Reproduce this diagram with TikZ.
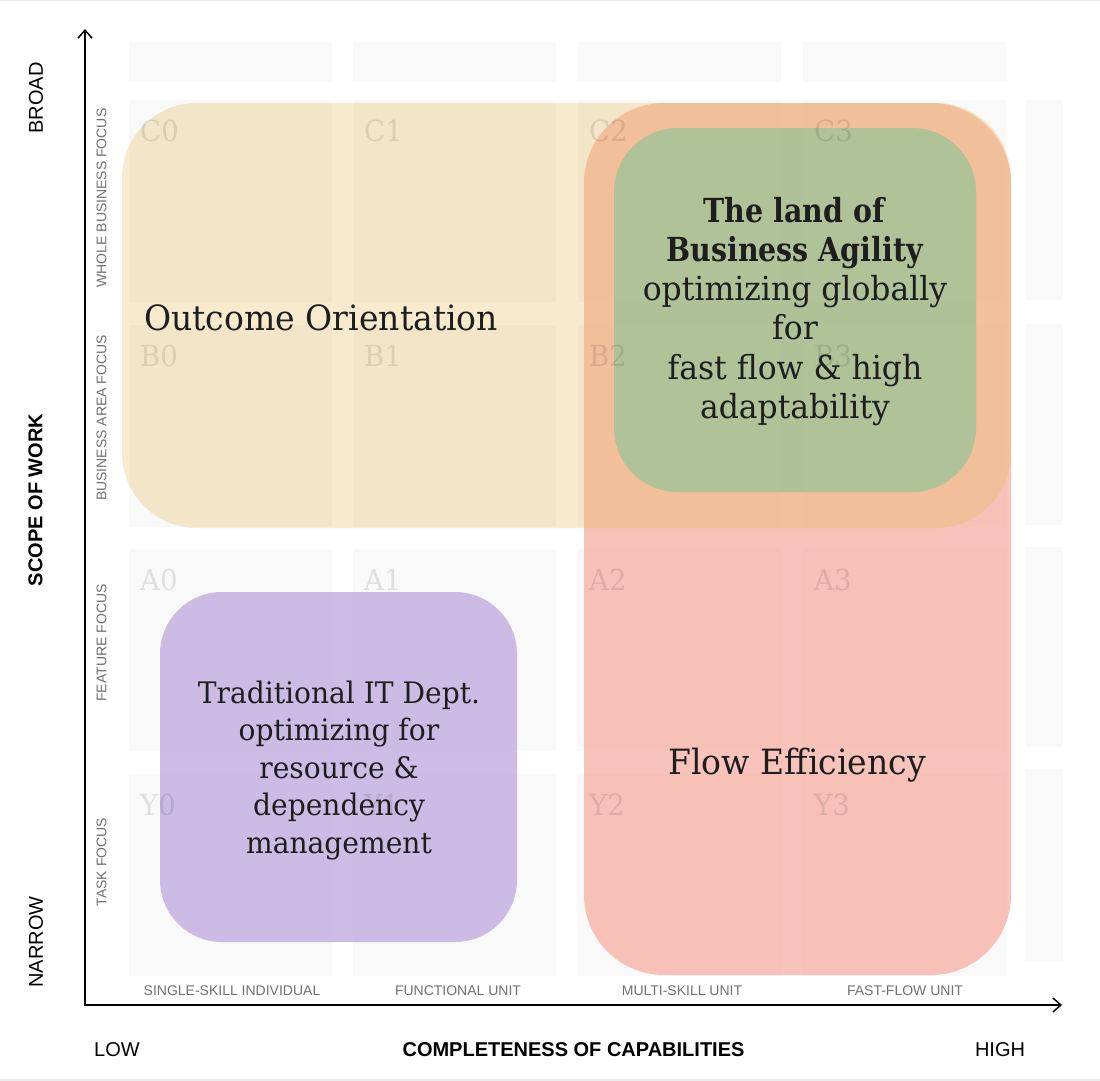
\documentclass[tikz,border=0pt]{standalone}
\usepackage{fontspec}
\setmainfont{DejaVu Serif}
\newfontfamily\slabfont[FakeStretch=0.95, BoldFeatures={FakeStretch=0.86}]{DejaVu Serif}
\newfontfamily\arialfont{Liberation Sans}
\usetikzlibrary{arrows.meta}
\definecolor{cellbg}{RGB}{249,249,249}
\definecolor{pinkc}{RGB}{247,188,178}
\definecolor{yellowc}{RGB}{232,188,90}
\definecolor{greenc}{RGB}{170,195,152}
\definecolor{purplec}{RGB}{200,182,227}
\definecolor{darktext}{RGB}{30,30,30}
\definecolor{graylab}{RGB}{112,112,112}
\definecolor{rulegray}{RGB}{236,236,236}
\tikzset{
  cellbox/.style={fill=cellbg, draw=none, inner sep=0pt, outer sep=0pt, anchor=north west, minimum width=203pt, minimum height=202pt},
  celllabel/.style={text=black, text opacity=0.1, anchor=base west, inner sep=0pt, font=\slabfont\fontsize{29}{29}\selectfont},
  region/.style={draw=none, inner sep=0pt, outer sep=0pt, rectangle},
  maintext/.style={text=darktext, inner sep=0pt, font=\slabfont\fontsize{34.8}{40}\selectfont},
  blocktext/.style={text=darktext, inner sep=0pt, align=center, anchor=north},
  axislabel/.style={text=black, inner sep=0pt, font=\arialfont\fontsize{20}{20}\selectfont},
  axistitle/.style={text=black, inner sep=0pt, font=\arialfont\bfseries\fontsize{20}{20}\selectfont},
  ticklabel/.style={text=graylab, inner sep=0pt, font=\arialfont\fontsize{14}{14}\selectfont},
  axisline/.style={line width=1.5pt, black, {Straight Barb[length=8pt,width=14pt,line width=1.5pt]}-{Straight Barb[length=8pt,width=14pt,line width=1.5pt]}}
}
\begin{document}
\begin{tikzpicture}[x=1pt,y=-1pt]
\useasboundingbox (0,0) rectangle (1100,1081);
% faint frame rules
\fill[rulegray] (0,0) rectangle (1100,1.5);
\fill[rulegray] (0,1078.5) rectangle (1100,1081);
% top row cells
\foreach \c/\cx in {0/129,1/353,2/578,3/803}{
  \node[cellbox, minimum height=39pt] (top\c) at (\cx,42) {};
}
% grid cells
\foreach \r/\ty in {C/100,B/325,A/549,Y/774}{
  \foreach \c/\cx in {0/129,1/353,2/578,3/803}{
    \node[cellbox] (cell\r\c) at (\cx,\ty) {};
  }
}
% right extra column
\node[cellbox, minimum width=37pt, minimum height=200pt] (rcC) at (1026,100) {};
\node[cellbox, minimum width=37pt, minimum height=201pt] (rcB) at (1026,324) {};
\node[cellbox, minimum width=37pt, minimum height=200pt] (rcA) at (1026,547) {};
\node[cellbox, minimum width=37pt, minimum height=192pt] (rcY) at (1026,769) {};
% regions
\node[region, fill=pinkc, fill opacity=0.9, minimum width=427pt, minimum height=872pt, rounded corners=80pt] (flow) at (797.5,539) {};
\node[region, fill=yellowc, fill opacity=0.3, minimum width=889pt, minimum height=425pt, rounded corners=75pt] (outcome) at (566.5,315.5) {};
\node[region, fill=greenc, fill opacity=0.92, minimum width=362pt, minimum height=364pt, rounded corners=64pt] (agility) at (795,310) {};
\node[region, fill=purplec, fill opacity=0.9, minimum width=357pt, minimum height=350pt, rounded corners=62pt] (itdept) at (338.5,767) {};
% cell labels (faint, over the regions)
\foreach \r/\ty in {C/100,B/325,A/549,Y/774}{
  \foreach \c/\cx in {0/129,1/353,2/578,3/803}{
    \node[celllabel] (lab\r\c) at (\cx+11,\ty+41) {\r\c};
  }
}
% region texts
\node[maintext, anchor=base west] (ootext) at (144,330) {Outcome Orientation};
\node[maintext, anchor=base] (fetext) at (797,774) {Flow Efficiency};
\node[blocktext, font=\slabfont\fontsize{33.1}{39.2}\selectfont] (batext) at (795,197) {\textbf{The land of}\\\textbf{Business Agility}\\optimizing globally\\for\\fast flow \& high\\adaptability};
\node[blocktext, font=\slabfont\fontsize{29.6}{37.5}\selectfont] (ittext) at (339,680.5) {Traditional IT Dept.\\optimizing for\\resource \&\\dependency\\management};
% axes
\coordinate (ytip) at (85,29);
\coordinate (origin) at (85,1005);
\coordinate (xtip) at (1062,1005);
\draw[axisline] (ytip) -- (origin) -- (xtip);
% axis labels
\node[axislabel, rotate=90] (broad) at (36,98) {BROAD};
\node[axislabel, rotate=90] (narrow) at (36,942) {NARROW};
\node[axistitle, rotate=90] (scope) at (35.5,500) {SCOPE OF WORK};
\node[axislabel] (low) at (117,1050) {LOW};
\node[axislabel] (high) at (1000,1050) {HIGH};
\node[axistitle] (compl) at (573.5,1050) {COMPLETENESS OF CAPABILITIES};
% row labels
\node[ticklabel, rotate=90] (rowC) at (101.5,198) {WHOLE BUSINESS FOCUS};
\node[ticklabel, rotate=90] (rowB) at (101.5,418) {BUSINESS AREA FOCUS};
\node[ticklabel, rotate=90] (rowA) at (101.5,643) {FEATURE FOCUS};
\node[ticklabel, rotate=90] (rowY) at (101.5,862) {TASK FOCUS};
% column labels
\node[ticklabel] (col0) at (232,991) {SINGLE-SKILL INDIVIDUAL};
\node[ticklabel] (col1) at (458,991) {FUNCTIONAL UNIT};
\node[ticklabel] (col2) at (682,991) {MULTI-SKILL UNIT};
\node[ticklabel] (col3) at (905,991) {FAST-FLOW UNIT};
\end{tikzpicture}
\end{document}
